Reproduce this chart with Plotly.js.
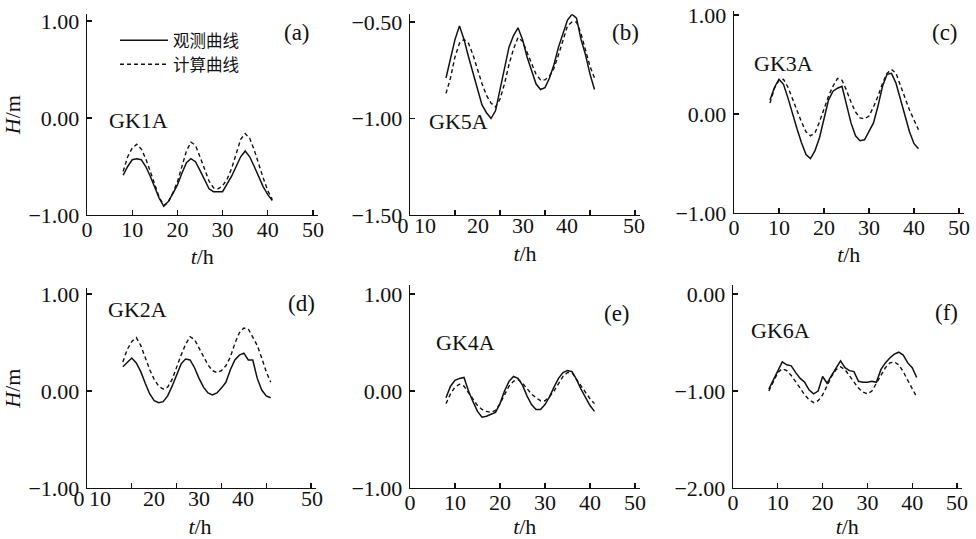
<!DOCTYPE html>
<html><head><meta charset="utf-8">
<script src="https://cdn.plot.ly/plotly-3.0.1.min.js"></script>
<style>html,body{margin:0;padding:0;background:#fff}</style>
</head><body><div id="chart" style="width:976px;height:539px"></div>
<script>
// ---------------- data ----------------
const hours = [8,9,10,11,12,13,14,15,16,17,18,19,20,21,22,23,24,25,26,27,28,29,30,31,32,33,34,35,36,37,38,39,40,41];

const obsGK1A  = [-0.59,-0.50,-0.43,-0.42,-0.43,-0.50,-0.60,-0.71,-0.83,-0.91,-0.86,-0.78,-0.69,-0.57,-0.46,-0.42,-0.45,-0.54,-0.64,-0.73,-0.76,-0.76,-0.76,-0.68,-0.60,-0.50,-0.40,-0.34,-0.40,-0.50,-0.61,-0.71,-0.79,-0.85];
const calcGK1A = [-0.55,-0.40,-0.31,-0.27,-0.32,-0.42,-0.55,-0.68,-0.82,-0.90,-0.87,-0.77,-0.66,-0.50,-0.34,-0.25,-0.28,-0.40,-0.53,-0.65,-0.72,-0.73,-0.70,-0.63,-0.52,-0.36,-0.22,-0.16,-0.21,-0.33,-0.48,-0.62,-0.75,-0.84];

const obsGK5A  = [-0.79,-0.69,-0.59,-0.52,-0.59,-0.68,-0.76,-0.85,-0.93,-0.97,-1.00,-0.96,-0.85,-0.74,-0.63,-0.57,-0.53,-0.59,-0.68,-0.75,-0.82,-0.85,-0.84,-0.79,-0.72,-0.63,-0.56,-0.49,-0.46,-0.48,-0.59,-0.67,-0.77,-0.85];
const calcGK5A = [-0.87,-0.79,-0.68,-0.61,-0.59,-0.61,-0.67,-0.75,-0.82,-0.88,-0.92,-0.94,-0.90,-0.82,-0.72,-0.64,-0.58,-0.60,-0.66,-0.72,-0.77,-0.80,-0.80,-0.78,-0.74,-0.67,-0.59,-0.52,-0.50,-0.50,-0.56,-0.65,-0.73,-0.79];

const obsGK3A  = [0.14,0.27,0.35,0.30,0.16,0.00,-0.15,-0.29,-0.41,-0.45,-0.37,-0.24,-0.06,0.14,0.23,0.26,0.28,0.08,-0.09,-0.22,-0.27,-0.26,-0.17,-0.09,0.08,0.28,0.40,0.41,0.31,0.14,-0.02,-0.18,-0.30,-0.35];
const calcGK3A = [0.11,0.26,0.34,0.35,0.27,0.15,0.03,-0.08,-0.18,-0.22,-0.19,-0.08,0.05,0.18,0.28,0.36,0.34,0.24,0.12,0.02,-0.04,-0.05,-0.02,0.07,0.18,0.31,0.41,0.45,0.41,0.29,0.15,0.04,-0.06,-0.16];

const obsGK2A  = [0.25,0.29,0.34,0.29,0.20,0.08,-0.03,-0.10,-0.12,-0.11,-0.05,0.05,0.17,0.28,0.33,0.32,0.24,0.13,0.04,-0.02,-0.04,-0.02,0.03,0.09,0.22,0.32,0.37,0.39,0.32,0.32,0.13,0.01,-0.05,-0.07];
const calcGK2A = [0.30,0.43,0.51,0.55,0.47,0.34,0.22,0.12,0.05,0.02,0.04,0.12,0.25,0.37,0.48,0.56,0.53,0.44,0.35,0.27,0.21,0.19,0.21,0.26,0.35,0.49,0.60,0.65,0.64,0.56,0.47,0.34,0.20,0.09];

const obsGK4A  = [-0.07,0.05,0.11,0.13,0.14,0.00,-0.11,-0.21,-0.27,-0.26,-0.24,-0.22,-0.13,0.00,0.10,0.15,0.13,0.06,-0.05,-0.14,-0.19,-0.19,-0.14,-0.06,0.04,0.13,0.19,0.21,0.20,0.12,0.02,-0.07,-0.15,-0.21];
const calcGK4A = [-0.13,-0.03,0.04,0.07,0.05,-0.02,-0.09,-0.15,-0.19,-0.21,-0.22,-0.20,-0.13,-0.04,0.05,0.10,0.12,0.08,0.02,-0.03,-0.07,-0.10,-0.10,-0.06,0.00,0.07,0.15,0.19,0.19,0.12,0.05,-0.02,-0.08,-0.13];

const obsGK6A  = [-0.98,-0.89,-0.79,-0.70,-0.73,-0.74,-0.81,-0.87,-0.91,-0.99,-1.03,-1.00,-0.85,-0.92,-0.84,-0.77,-0.69,-0.76,-0.79,-0.80,-0.90,-0.91,-0.91,-0.90,-0.91,-0.78,-0.71,-0.66,-0.62,-0.60,-0.63,-0.71,-0.76,-0.86];
const calcGK6A = [-1.00,-0.91,-0.81,-0.77,-0.79,-0.84,-0.90,-0.97,-1.04,-1.09,-1.12,-1.10,-1.04,-0.94,-0.85,-0.78,-0.75,-0.78,-0.84,-0.90,-0.97,-1.01,-1.03,-1.00,-0.92,-0.84,-0.76,-0.71,-0.70,-0.73,-0.80,-0.89,-0.97,-1.06];

const seriesNames = ['观测曲线','计算曲线'];
const stationNames = ['GK1A','GK5A','GK3A','GK2A','GK4A','GK6A'];
const panelLetters = ['(a)','(b)','(c)','(d)','(e)','(f)'];

const xTicks = [0,10,20,30,40,50];
const xTickLabels = ['0','10','20','30','40','50'];
const xTicksShifted = [10,20,30,40,50];        // tick marks for (b),(d)
const yTicksA = [-1,0,1];
const yTicksB = [-1.5,-1,-0.5];
const yTicksC = [-1,0,1];
const yTicksD = [-1,0,1];
const yTicksE = [-1,0,1];
const yTicksF = [-2,-1,0];

// ---------------- layout helpers ----------------
const W = 976, H = 539;
const px = (a,b) => [a/W, b/W];
const py = (top,bottom) => [1-bottom/H, 1-top/H];
const SERIF = 'Liberation Serif, Times New Roman, serif';
const INK = '#111111';
const TICK_SIZE = 22;

const obs = [obsGK1A,obsGK5A,obsGK3A,obsGK2A,obsGK4A,obsGK6A];
const calc = [calcGK1A,calcGK5A,calcGK3A,calcGK2A,calcGK4A,calcGK6A];
const yTicks = [yTicksA,yTicksB,yTicksC,yTicksD,yTicksE,yTicksF];

// panel geometry (pixels)
const panels = [
  {xd:[87,317.5],  yd:[14.2,215],  yr:[-1,1.07]},
  {xd:[410,639.5], yd:[14.3,215],  yr:[-1.5,-0.46]},
  {xd:[734,963.5], yd:[11,213],    yr:[-1,1.04]},
  {xd:[87,315.5],  yd:[288.2,488], yr:[-1,1.06]},
  {xd:[410,639.5], yd:[285.3,488], yr:[-1,1.09]},
  {xd:[733,961.5], yd:[285.3,488], yr:[-2,0.09]}
];

const legendFont = {family:'Noto Sans CJK SC', size:16.5, color:INK};
const traces = [];
const layout = {
  width: W, height: H,
  margin: {l:0,r:0,t:0,b:0},
  paper_bgcolor: '#ffffff',
  plot_bgcolor: 'rgba(0,0,0,0)',
  showlegend: true,
  legend: {
    x: 115/W, y: 1-23/H, xanchor:'left', yanchor:'top',
    bgcolor:'rgba(0,0,0,0)', borderwidth:0, font:legendFont, itemwidth: 48
  },
  legend2: {
    x: 115/W, y: 1-47/H, xanchor:'left', yanchor:'top',
    bgcolor:'rgba(0,0,0,0)', borderwidth:0, font:legendFont, itemwidth: 48
  },
  annotations: [],
  font: {family: SERIF, color: INK}
};

const axisBase = {
  showline: true, linecolor: INK, linewidth: 1.3,
  ticks: 'inside', ticklen: 5, tickwidth: 1.2, tickcolor: INK,
  showgrid: false, zeroline: false, fixedrange: true, tickangle: 0,
  tickfont: {family: SERIF, size: TICK_SIZE, color: INK}
};

const titleX = {text:'<i>t</i>/h', font:{family:SERIF, size:22, color:INK}, standoff: 8};
const titleY = {text:'<i>H</i>/m', font:{family:SERIF, size:22, color:INK}, standoff: 1};

panels.forEach((p,i) => {
  const n = i+1;
  const xa = 'x'+(n===1?'':n), ya = 'y'+(n===1?'':n);
  const xk = 'xaxis'+(n===1?'':n), yk = 'yaxis'+(n===1?'':n);
  const shifted = (i===1 || i===3);
  layout[xk] = Object.assign({}, axisBase, {
    domain: px(p.xd[0],p.xd[1]), range:[0,51], anchor: ya,
    tickmode:'array',
    tickvals: shifted ? xTicksShifted : xTicks,
    ticktext: shifted ? xTicksShifted.map(String) : xTickLabels,
    showticklabels: !shifted,
    ticklabelstandoff: -6,
    title: shifted ? undefined : titleX
  });
  layout[yk] = Object.assign({}, axisBase, {
    domain: py(p.yd[0],p.yd[1]), range:p.yr, anchor: xa,
    tickmode:'array', tickvals: yTicks[i], tickformat:'.2f',
    ticklabelstandoff: 2,
    title: (i===0 || i===3) ? titleY : undefined
  });
  traces.push({
    x: hours, y: obs[i], xaxis: xa, yaxis: ya, type:'scatter', mode:'lines',
    name: seriesNames[0], showlegend: i===0, legend:'legend', legendgroup:'obs',
    line: {color:'#111', width:1.5}, hoverinfo:'skip'
  });
  traces.push({
    x: hours, y: calc[i], xaxis: xa, yaxis: ya, type:'scatter', mode:'lines',
    name: seriesNames[1], showlegend: i===0, legend:'legend2', legendgroup:'calc',
    line: {color:'#111', width:1.4, dash:'4px,3px'}, hoverinfo:'skip'
  });
});

// misplaced tick-label rows of panels (b) and (d), as in the original figure
const shiftedLabelPos = {
  b: {dom:[400,650], x0:410, s:4.5,  at:[403,425,478,523,567,634], y:'y2', ax:'x7'},
  d: {dom:[75,325],  x0:87,  s:4.48, at:[79,100,154,199,243,312],  y:'y4', ax:'x8'}
};
[['xaxis7','b'],['xaxis8','d']].forEach(([k,key]) => {
  const g = shiftedLabelPos[key];
  layout[k] = {
    domain: px(g.dom[0],g.dom[1]), anchor: g.y,
    range: [(g.dom[0]-g.x0)/g.s, (g.dom[1]-g.x0)/g.s],
    tickmode:'array', tickvals: g.at.map(v => (v-g.x0)/g.s), ticktext: xTickLabels,
    showline:false, ticks:'', showgrid:false, zeroline:false, fixedrange:true, tickangle:0,
    tickfont:{family:SERIF, size:TICK_SIZE, color:INK}, ticklabelstandoff: -5,
    title: titleX
  };
  // empty trace so the label axis gets its own subplot (draws nothing)
  traces.push({x:[], y:[], xaxis:g.ax, yaxis:g.y, type:'scatter', mode:'lines',
    showlegend:false, hoverinfo:'skip'});
});

// station names and panel letters
const stationPos = [[138,120],[458,121],[783,63],[137,309],[465,342],[780,330]];
const letterPos  = [[297,33],[625,33],[945,33],[301,303],[617,313],[946,312]];
stationNames.forEach((s,i) => {
  layout.annotations.push({text:s, xref:'paper', yref:'paper',
    x:stationPos[i][0]/W, y:1-stationPos[i][1]/H, xanchor:'center', yanchor:'middle',
    showarrow:false, font:{family:SERIF, size:22, color:INK}});
  layout.annotations.push({text:panelLetters[i], xref:'paper', yref:'paper',
    x:letterPos[i][0]/W, y:1-letterPos[i][1]/H, xanchor:'center', yanchor:'middle',
    showarrow:false, font:{family:SERIF, size:23, color:INK}});
});

Plotly.newPlot('chart', traces, layout, {staticPlot:true, displayModeBar:false});
</script></body></html>
